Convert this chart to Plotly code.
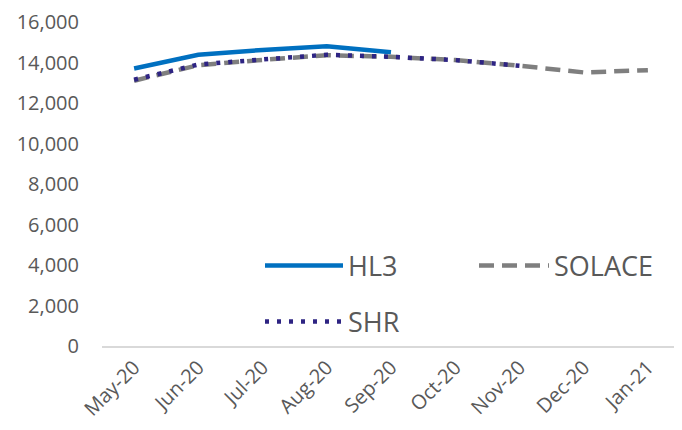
import plotly.graph_objects as go

months = ["May-20", "Jun-20", "Jul-20", "Aug-20", "Sep-20", "Oct-20", "Nov-20", "Dec-20", "Jan-21"]
hl3 = [13700, 14380, 14620, 14800, 14510]
solace = [13100, 13870, 14130, 14360, 14280, 14120, 13840, 13510, 13620]
shr = [13150, 13900, 14150, 14380, 14280, 14120, 13840]
y_ticks = [0, 2000, 4000, 6000, 8000, 10000, 12000, 14000, 16000]

FONT = "Open Sans"
GREY = "#595959"

# page body has an 8px default margin; figure coordinates = page coordinates - 8
OFF = 8
W, H = 682 - OFF, 430 - OFF
PL, PR, PT, PB = 102 - OFF, 680 - OFF, 22 - OFF, 346 - OFF
PW, PH = PR - PL, PB - PT


def px_x(x):
    return (x - OFF - PL) / PW


def px_y(y):
    return (PB - (y - OFF)) / PH


fig = go.Figure()
fig.add_trace(go.Scatter(x=months[:len(hl3)], y=hl3, name="HL3", mode="lines",
                         line=dict(color="#0070C0", width=4.5), legend="legend"))
fig.add_trace(go.Scatter(x=months[:len(solace)], y=solace, name="SOLACE", mode="lines",
                         line=dict(color="#7F7F7F", width=4.5, dash="15px,8px"), legend="legend2"))
fig.add_trace(go.Scatter(x=months[:len(shr)], y=shr, name="SHR", mode="lines",
                         line=dict(color="#2E2483", width=4.5, dash="4px,8px"), legend="legend3"))

leg_common = dict(orientation="v", xanchor="left", yanchor="middle", bgcolor="rgba(0,0,0,0)",
                  font=dict(size=27, color=GREY, family=FONT))

fig.update_layout(
    width=W, height=H,
    margin=dict(l=PL, r=W - PR, t=PT, b=H - PB, autoexpand=False),
    plot_bgcolor="white", paper_bgcolor="white",
    font=dict(family=FONT, color=GREY, size=16),
    xaxis=dict(type="category", categoryorder="array", categoryarray=months,
               range=[-0.5, len(months) - 0.5], tickangle=-45, automargin=False,
               showgrid=False, showline=True, linecolor="#D9D9D9", linewidth=1.5,
               ticks="", ticklabeloverflow="allow",
               tickfont=dict(size=20, color=GREY, family=FONT)),
    yaxis=dict(range=[0, 16000], tickvals=y_ticks, tickformat=",d", automargin=False,
               showgrid=False, zeroline=False, showline=False, ticks="",
               ticklabelstandoff=22, ticklabeloverflow="allow",
               tickfont=dict(size=20, color=GREY, family=FONT)),
    legend=dict(x=px_x(260), y=px_y(266), itemwidth=78, **leg_common),
    legend2=dict(x=px_x(474), y=px_y(266), itemwidth=70, **leg_common),
    legend3=dict(x=px_x(260), y=px_y(322), itemwidth=78, **leg_common),
    showlegend=True,
)

fig.write_html("out.html")
